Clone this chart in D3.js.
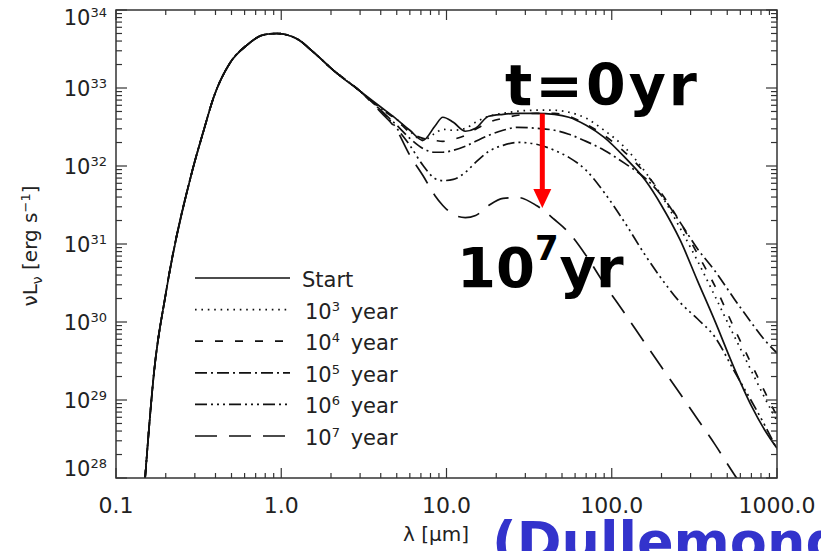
<!DOCTYPE html>
<html>
<head>
    <title>SED evolution of a dispersing disk</title>
    <script src="https://d3js.org/d3.v7.min.js"></script>
    <style>
        body {
            margin: 0;
            padding: 0;
            background: white;
        }
        svg {
            display: block;
        }
        .frame {
            fill: none;
            stroke: #333;
            stroke-width: 1.5;
        }
        .tick {
            stroke: #333;
            stroke-width: 1.2;
        }
        .tick-label {
            font-family: "DejaVu Sans", sans-serif;
            fill: #222;
        }
        .axis-title {
            font-family: "DejaVu Sans", sans-serif;
            font-size: 20px;
            fill: #222;
        }
        .sed {
            fill: none;
            stroke: #111;
            stroke-width: 1.7;
        }
        .legend-label {
            font-family: "DejaVu Sans", sans-serif;
            font-size: 21px;
            fill: #222;
        }
        .big-label {
            font-family: "DejaVu Sans", sans-serif;
            font-weight: bold;
            fill: black;
        }
        .cite {
            font-family: "DejaVu Sans", sans-serif;
            font-weight: bold;
            font-size: 54px;
            fill: #3333cc;
        }
    </style>
</head>
<body>
    <svg id="chart" width="821" height="551"></svg>
    <script>
        // stellar part, shared by every curve (lambda in micron, nuL_nu in erg/s)
        const starLambda = [0.15, 0.17, 0.2, 0.29, 0.34, 0.39, 0.49, 0.62, 0.78, 0.94, 1.25, 1.56, 2.06, 3.0];
        const starL = [1.0e28, 2.3e29, 2.3e30, 8.8e31, 2.9e32, 7.6e32, 2.1e33, 3.55e33, 4.8e33, 5.0e33, 4.25e33, 2.9e33, 1.7e33, 9.1e32];

        // disk part, one grid for all the curves
        const diskLambda = [4, 5, 6, 7.2, 8.5, 9.5, 11, 13, 15, 18, 22, 27, 35, 45, 55, 70, 90, 120, 160, 200, 260, 330, 420, 550, 700, 850, 1000];
        const LStart = [5.7e32, 3.97e32, 2.87e32, 2.13e32, 3.23e32, 4.22e32, 3.63e32, 2.79e32, 3.04e32, 4.34e32, 4.6e32, 4.74e32, 4.74e32, 4.6e32, 4.22e32, 3.33e32, 2.33e32, 1.29e32, 6.5e31, 3.12e31, 1.11e31, 3.39e30, 1.04e30, 2.58e29, 8.4e28, 4.0e28, 2.4e28];
        const L1e3 = [5.5e32, 3.97e32, 2.79e32, 2.13e32, 2.62e32, 2.95e32, 2.87e32, 3.04e32, 3.63e32, 4.34e32, 4.74e32, 5.04e32, 5.19e32, 5.19e32, 4.89e32, 4.09e32, 2.87e32, 1.73e32, 8.3e31, 4.19e31, 1.58e31, 6.1e30, 2.17e30, 6.65e29, 2.36e29, 1.03e29, 5.4e28];
        const L1e4 = [5.5e32, 3.86e32, 2.70e32, 2.26e32, 2.13e32, 2.07e32, 2.2e32, 2.47e32, 2.95e32, 3.63e32, 4.09e32, 4.47e32, 4.74e32, 4.74e32, 4.34e32, 3.43e32, 2.47e32, 1.5e32, 8.0e31, 4.45e31, 1.88e31, 7.5e30, 2.92e30, 8.4e29, 2.9e29, 1.23e29, 6.2e28];
        const L1e5 = [5.19e32, 3.33e32, 2.26e32, 1.68e32, 1.5e32, 1.5e32, 1.59e32, 1.79e32, 2.07e32, 2.47e32, 2.87e32, 3.13e32, 3.04e32, 2.87e32, 2.55e32, 2.07e32, 1.59e32, 1.08e32, 6.93e31, 4.19e31, 1.88e31, 8.7e30, 4.55e30, 1.99e30, 9.8e29, 5.74e29, 4.0e29];
        const L1e6 = [5.19e32, 3.04e32, 1.84e32, 1.02e32, 6.93e31, 6.5e31, 6.73e31, 8.3e31, 1.11e32, 1.54e32, 1.84e32, 2.01e32, 1.9e32, 1.59e32, 1.29e32, 8.8e31, 4.58e31, 1.88e31, 7.1e30, 3.59e30, 1.77e30, 1.1e30, 6.46e29, 2.36e29, 9.7e28, 4.6e28, 2.34e28];
        const L1e7 = [4.89e32, 2.87e32, 1.37e32, 7.57e31, 4.19e31, 3.12e31, 2.39e31, 2.18e31, 2.32e31, 3.12e31, 3.84e31, 3.95e31, 3.12e31, 2.06e31, 1.4e31, 7.1e30, 3.1e30, 1.28e30, 5.25e29, 2.65e29, 1.19e29, 5.7e28, 2.72e28, 1.12e28, 5.35e27, 2.96e27, 1.84e27];

        const seriesNames = ['Start', '10^3', '10^4', '10^5', '10^6', '10^7'];
        const seriesValues = [LStart, L1e3, L1e4, L1e5, L1e6, L1e7];
        const seriesDash = ['none', '1.6,4.8', '8,12', '12,4,2,4', '12,4,2,4,2,4,2,4', '22,12'];

        const xTickLabels = ['0.1', '1.0', '10.0', '100.0', '1000.0'];

        // arrow annotation (t=0 -> 10^7 yr)
        const arrowLambda = 38;
        const arrowFrom = 4.7e32;
        const arrowTo = 2.9e31;

        const svg = d3.select('#chart');
        const plot = { left: 116, right: 777, top: 10, bottom: 478 };

        const x = d3.scaleLog().domain([0.1, 1000]).range([plot.left, plot.right]);
        const y = d3.scaleLog().domain([1e28, 1e34]).range([plot.bottom, plot.top]);

        const isMajor = v => Math.abs(Math.log10(v) - Math.round(Math.log10(v))) < 1e-6;

        svg.append('clipPath').attr('id', 'plot-clip')
            .append('rect')
            .attr('x', plot.left).attr('y', plot.top)
            .attr('width', plot.right - plot.left).attr('height', plot.bottom - plot.top);

        // curves
        const line = d3.line()
            .x(d => x(d[0]))
            .y(d => y(d[1]))
            .curve(d3.curveMonotoneX);

        const curves = svg.append('g').attr('clip-path', 'url(#plot-clip)');
        seriesValues.forEach((vals, i) => {
            const pts = starLambda.map((l, j) => [l, starL[j]])
                .concat(diskLambda.map((l, j) => [l, vals[j]]));
            curves.append('path')
                .datum(pts)
                .attr('class', 'sed')
                .attr('stroke-width', i === 0 ? 1.9 : 1.6)
                .attr('stroke-dasharray', seriesDash[i])
                .attr('d', line);
        });

        // frame and ticks
        svg.append('rect').attr('class', 'frame')
            .attr('x', plot.left).attr('y', plot.top)
            .attr('width', plot.right - plot.left).attr('height', plot.bottom - plot.top);

        const ticks = svg.append('g');
        x.ticks().forEach(v => {
            const len = isMajor(v) ? 10 : 5;
            const px = x(v);
            ticks.append('line').attr('class', 'tick')
                .attr('x1', px).attr('x2', px).attr('y1', plot.bottom).attr('y2', plot.bottom - len);
            ticks.append('line').attr('class', 'tick')
                .attr('x1', px).attr('x2', px).attr('y1', plot.top).attr('y2', plot.top + len);
        });
        y.ticks().forEach(v => {
            const len = isMajor(v) ? 11 : 6;
            const py = y(v);
            ticks.append('line').attr('class', 'tick')
                .attr('x1', plot.left).attr('x2', plot.left + len).attr('y1', py).attr('y2', py);
            ticks.append('line').attr('class', 'tick')
                .attr('x1', plot.right).attr('x2', plot.right - len).attr('y1', py).attr('y2', py);
        });

        // x tick labels
        const xMajors = x.ticks().filter(isMajor);
        svg.append('g').selectAll('text')
            .data(xMajors)
            .join('text')
            .attr('class', 'tick-label')
            .attr('x', d => x(d))
            .attr('y', 513)
            .attr('text-anchor', 'middle')
            .style('font-size', '22px')
            .text((d, i) => xTickLabels[i]);

        // y tick labels as 10^n
        const yMajors = y.ticks().filter(isMajor);
        yMajors.forEach(v => {
            const cy = Math.max(17, Math.min(468, y(v)));
            const t = svg.append('text')
                .attr('class', 'tick-label')
                .attr('x', 107)
                .attr('y', cy + 8)
                .attr('text-anchor', 'end')
                .style('font-size', '21px');
            t.append('tspan').text('10');
            t.append('tspan').attr('dy', -8).style('font-size', '13px')
                .text(Math.round(Math.log10(v)));
        });

        // axis titles
        const yt = svg.append('text')
            .attr('class', 'axis-title')
            .attr('transform', 'translate(37,246) rotate(-90)')
            .attr('text-anchor', 'middle');
        yt.append('tspan').text('\u03bdL');
        yt.append('tspan').attr('dy', 5).style('font-size', '14px').text('\u03bd');
        yt.append('tspan').attr('dy', -5).text(' [erg s');
        yt.append('tspan').attr('dy', -7).style('font-size', '13px').text('\u22121');
        yt.append('tspan').attr('dy', 7).text(']');

        svg.append('text')
            .attr('class', 'axis-title')
            .attr('x', 403).attr('y', 541)
            .style('font-size', '20px')
            .text('\u03bb [\u03bcm]');

        // legend
        const legend = svg.append('g');
        seriesNames.forEach((name, i) => {
            const ly = 278 + i * 31.6;
            legend.append('line')
                .attr('class', 'sed')
                .attr('x1', 195).attr('x2', 290)
                .attr('y1', ly).attr('y2', ly)
                .attr('stroke-width', i === 0 ? 1.9 : 1.6)
                .attr('stroke-dasharray', seriesDash[i]);
            const t = legend.append('text')
                .attr('class', 'legend-label')
                .attr('x', i === 0 ? 302 : 305)
                .attr('y', ly + 9);
            if (i === 0) {
                t.text(name);
            } else {
                t.append('tspan').text('10');
                t.append('tspan').attr('dy', -8).style('font-size', '13px').text(name.split('^')[1]);
                t.append('tspan').attr('dy', 8).attr('dx', 4).text(' year');
            }
        });

        // red arrow
        const ax = x(arrowLambda);
        const tipY = y(arrowTo);
        svg.append('line')
            .attr('x1', ax).attr('x2', ax)
            .attr('y1', y(arrowFrom)).attr('y2', tipY - 16)
            .attr('stroke', '#ff0000')
            .attr('stroke-width', 5);
        svg.append('path')
            .attr('d', `M${ax - 9},${tipY - 19} L${ax + 9},${tipY - 19} L${ax},${tipY} Z`)
            .attr('fill', '#ff0000');

        // big annotations
        svg.append('text')
            .attr('class', 'big-label')
            .attr('x', 505).attr('y', 105)
            .style('font-size', '57px')
            .style('letter-spacing', '3px')
            .text('t=0yr');

        const late = svg.append('text')
            .attr('class', 'big-label')
            .attr('x', 457).attr('y', 287)
            .style('font-size', '56px');
        late.append('tspan').text('10');
        late.append('tspan').attr('dy', -27).style('font-size', '34px').text('7');
        late.append('tspan').attr('dy', 27).attr('dx', 1).text('yr');

        // citation, cut by the bottom edge
        svg.append('text')
            .attr('class', 'cite')
            .attr('x', 492).attr('y', 560)
            .text('(Dullemond & Dominik 2005)');
    </script>
</body>
</html>
